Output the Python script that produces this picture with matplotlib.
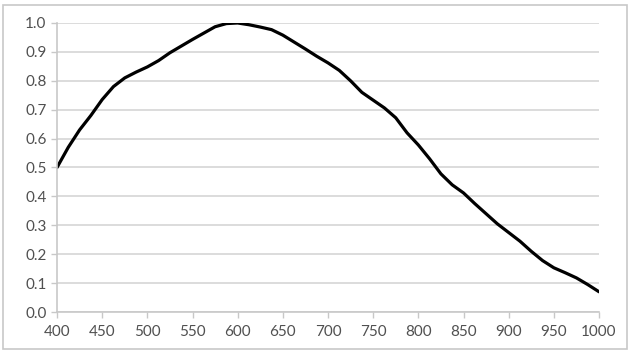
import matplotlib.pyplot as plt
from matplotlib.patches import Rectangle

wavelength = [400, 412.5, 425, 437.5, 450, 462.5, 475, 487.5, 500, 512.5, 525, 537.5,
              550, 562.5, 575, 587.5, 600, 612.5, 625, 637.5, 650, 662.5, 675, 687.5,
              700, 712.5, 725, 737.5, 750, 762.5, 775, 787.5, 800, 812.5, 825, 837.5,
              850, 862.5, 875, 887.5, 900, 912.5, 925, 937.5, 950, 962.5, 975, 987.5, 1000]
response = [0.50, 0.57, 0.63, 0.68, 0.735, 0.78, 0.81, 0.83, 0.848, 0.87, 0.897, 0.92,
            0.943, 0.965, 0.987, 0.998, 1.00, 0.994, 0.986, 0.977, 0.958, 0.934, 0.91, 0.885,
            0.862, 0.836, 0.80, 0.76, 0.733, 0.706, 0.672, 0.62, 0.578, 0.53, 0.478, 0.44,
            0.412, 0.375, 0.34, 0.305, 0.275, 0.245, 0.21, 0.178, 0.153, 0.136, 0.118, 0.095, 0.07]
x_ticks = list(range(400, 1001, 50))
y_ticks = [i / 10 for i in range(11)]

plt.rcParams['font.family'] = ['Lato', 'DejaVu Sans']

fig = plt.figure(figsize=(6.3, 3.51), dpi=100)
ax = fig.add_axes([57 / 630, 1 - 312 / 351, 542 / 630, 289 / 351])

# outer chart border
fig.patches.append(Rectangle((3 / 630, 2 / 351), 624 / 630, 344 / 351, transform=fig.transFigure,
                             fill=False, edgecolor='#c8c8c8', linewidth=1.2))

ax.plot(wavelength, response, color='black', linewidth=2.3,
        solid_joinstyle='round', solid_capstyle='round')

ax.set_xlim(400, 1000)
ax.set_ylim(0, 1.0)
ax.set_xticks(x_ticks)
ax.set_yticks(y_ticks)
ax.set_yticklabels([f'{v:.1f}' for v in y_ticks])
ax.grid(axis='y', color='#d9d9d9', linewidth=1.3)
ax.set_axisbelow(True)

for side in ['top', 'right']:
    ax.spines[side].set_visible(False)
for side in ['left', 'bottom']:
    ax.spines[side].set_color('#c8c8c8')
    ax.spines[side].set_linewidth(1.2)

ax.tick_params(axis='both', colors='#c8c8c8', labelcolor='#505050', labelsize=11, length=4, width=1)
ax.tick_params(axis='x', pad=5)

fig.savefig('out.png', dpi=100)
